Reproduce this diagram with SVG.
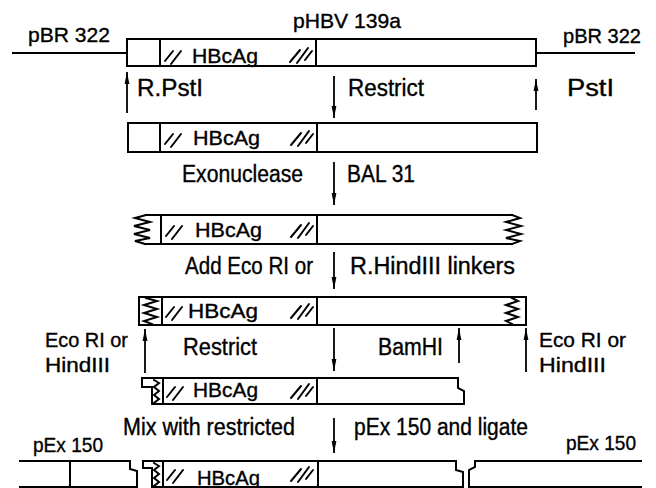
<svg xmlns="http://www.w3.org/2000/svg" xmlns:xlink="http://www.w3.org/1999/xlink" width="656" height="488" viewBox="0 0 656 488">
<style>
.s{fill:none;stroke:#000;stroke-width:2;stroke-linejoin:miter;stroke-linecap:square}
.h{fill:none;stroke:#000;stroke-width:2;stroke-linecap:round}
.a{fill:none;stroke:#000;stroke-width:1.8}
text{font-family:"Liberation Sans",Arial,sans-serif;fill:#000;stroke:#000;stroke-width:0.35}
.lb{font-size:23px}
.hb{font-size:20px}
.pl{font-size:21px}
</style>
<defs>
<marker id="ah" viewBox="0 0 12 6" refX="12" refY="3" markerWidth="12" markerHeight="6" markerUnits="userSpaceOnUse" orient="auto">
<path d="M0,0.6 L12,3 L0,5.4 Z" fill="#000"/>
</marker>
<path id="hL" class="h" d="M0,5 L8,-5 M6,8 L16,-5"/>
<path id="hR" class="h" d="M0,7 L10,-5 M7,8 L18,-7 M15,5 L22,-4"/>
</defs>
<rect width="656" height="488" fill="#fff"/>

<g id="row1">
<line class="s" x1="13" y1="53" x2="127" y2="53"/>
<rect class="s" x="127" y="39" width="409" height="27"/>
<line class="s" x1="160" y1="39" x2="160" y2="66"/>
<line class="s" x1="316" y1="39" x2="316" y2="66"/>
<line class="s" x1="536" y1="53" x2="634" y2="53"/>
<use xlink:href="#hL" x="165" y="56"/>
<use xlink:href="#hR" x="290" y="55"/>
<text class="pl" x="28" y="42" textLength="82" lengthAdjust="spacingAndGlyphs">pBR 322</text>
<text class="pl" x="293" y="28" textLength="108" lengthAdjust="spacingAndGlyphs">pHBV 139a</text>
<text class="pl" x="563" y="43" textLength="78" lengthAdjust="spacingAndGlyphs">pBR 322</text>
<text class="hb" x="192" y="63" textLength="66" lengthAdjust="spacingAndGlyphs">HBcAg</text>
</g>

<g id="row2">
<rect class="s" x="128" y="123" width="409" height="29"/>
<line class="s" x1="160" y1="123" x2="160" y2="152"/>
<line class="s" x1="317" y1="123" x2="317" y2="152"/>
<use xlink:href="#hL" x="165" y="139"/>
<use xlink:href="#hR" x="291" y="138"/>
<text class="hb" x="193" y="145" textLength="67" lengthAdjust="spacingAndGlyphs">HBcAg</text>
</g>

<g id="row3">
<line class="s" x1="146" y1="215" x2="512" y2="215"/>
<line class="s" x1="145" y1="244" x2="512" y2="244"/>
<polyline class="s" points="146,215 135,218 150,222 134,226 150,230 134,234 150,238 135,241 145,244"/>
<polyline class="s" points="512,215 520,218 506,222 521,226 506,230 521,234 506,238 520,241 512,244"/>
<line class="s" x1="161" y1="215" x2="161" y2="244"/>
<line class="s" x1="317" y1="215" x2="317" y2="244"/>
<use xlink:href="#hL" x="166" y="231"/>
<use xlink:href="#hR" x="291" y="230"/>
<text class="hb" x="195" y="237" textLength="67" lengthAdjust="spacingAndGlyphs">HBcAg</text>
</g>

<g id="row4">
<rect class="s" x="139" y="297" width="387" height="28"/>
<polyline class="s" points="146,298 157,301 144,305 157,309 144,313 157,317 144,321 152,324"/>
<polyline class="s" points="512,298 518,301 506,305 518,309 506,313 518,317 506,321 512,324"/>
<line class="s" x1="162" y1="297" x2="162" y2="325"/>
<line class="s" x1="317" y1="297" x2="317" y2="325"/>
<use xlink:href="#hL" x="166" y="312"/>
<use xlink:href="#hR" x="291" y="311"/>
<text class="hb" x="188" y="318" textLength="70" lengthAdjust="spacingAndGlyphs">HBcAg</text>
</g>

<g id="row5">
<path class="s" d="M142,378 H458 V388 L464,391 V404 H152 V387 H142 Z"/>
<polyline class="s" points="154,380 159,383 154,387 159,391 154,395 159,399 154,403"/>
<line class="s" x1="163" y1="378" x2="163" y2="404"/>
<line class="s" x1="317" y1="378" x2="317" y2="404"/>
<use xlink:href="#hL" x="167" y="392"/>
<use xlink:href="#hR" x="291" y="391"/>
<text class="hb" x="193" y="397" textLength="65" lengthAdjust="spacingAndGlyphs">HBcAg</text>
</g>

<g id="row6-pEx150-left">
<path class="s" d="M20,461 H130 V469 L137,471 V487 H20"/>
<line class="s" x1="70" y1="461" x2="70" y2="487"/>
<text class="pl" x="33" y="452" textLength="70" lengthAdjust="spacingAndGlyphs">pEx 150</text>
</g>

<g id="row6-insert">
<path class="s" d="M143,461 H456 V470 L463,472 V487 H152 V468 H143 Z"/>
<polyline class="s" points="154,463 159,466 154,470 159,474 154,478 159,482 154,486"/>
<line class="s" x1="163" y1="461" x2="163" y2="487"/>
<line class="s" x1="318" y1="461" x2="318" y2="487"/>
<use xlink:href="#hL" x="167" y="475"/>
<use xlink:href="#hR" x="291" y="474"/>
<text class="hb" x="197" y="485" textLength="63" lengthAdjust="spacingAndGlyphs">HBcAg</text>
</g>

<g id="row6-pEx150-right">
<path class="s" d="M641,461 H475 V467 L469,470 V487 H641"/>
<text class="pl" x="566" y="450" textLength="70" lengthAdjust="spacingAndGlyphs">pEx 150</text>
</g>

<g id="connectors">
<line class="a" x1="127" y1="113" x2="127" y2="72" marker-end="url(#ah)"/>
<line class="a" x1="334" y1="76" x2="334" y2="118" marker-end="url(#ah)"/>
<line class="a" x1="536" y1="110" x2="536" y2="79" marker-end="url(#ah)"/>
<line class="a" x1="334" y1="162" x2="334" y2="205" marker-end="url(#ah)"/>
<line class="a" x1="334" y1="252" x2="334" y2="289" marker-end="url(#ah)"/>
<line class="a" x1="145" y1="373" x2="145" y2="329" marker-end="url(#ah)"/>
<line class="a" x1="334" y1="328" x2="334" y2="371" marker-end="url(#ah)"/>
<line class="a" x1="459" y1="363" x2="459" y2="328" marker-end="url(#ah)"/>
<line class="a" x1="526" y1="372" x2="526" y2="328" marker-end="url(#ah)"/>
<line class="a" x1="334" y1="418" x2="334" y2="453" marker-end="url(#ah)"/>
</g>

<g id="labels">
<text class="lb" x="137" y="96" textLength="66" lengthAdjust="spacingAndGlyphs">R.PstI</text>
<text class="lb" x="348" y="96" textLength="76" lengthAdjust="spacingAndGlyphs">Restrict</text>
<text class="lb" x="567" y="96" textLength="47" lengthAdjust="spacingAndGlyphs">PstI</text>
<text class="lb" x="182" y="182" textLength="121" lengthAdjust="spacingAndGlyphs">Exonuclease</text>
<text class="lb" x="347" y="182" textLength="68" lengthAdjust="spacingAndGlyphs">BAL 31</text>
<text class="lb" x="185" y="274" textLength="128" lengthAdjust="spacingAndGlyphs">Add Eco RI or</text>
<text class="lb" x="350" y="274" textLength="165" lengthAdjust="spacingAndGlyphs">R.HindIII linkers</text>
<text class="pl" x="45" y="347" textLength="83" lengthAdjust="spacingAndGlyphs">Eco RI or</text>
<text class="pl" x="45" y="372" textLength="65" lengthAdjust="spacingAndGlyphs">HindIII</text>
<text class="lb" x="183" y="355" textLength="74" lengthAdjust="spacingAndGlyphs">Restrict</text>
<text class="lb" x="378" y="355" textLength="65" lengthAdjust="spacingAndGlyphs">BamHI</text>
<text class="pl" x="539" y="347" textLength="87" lengthAdjust="spacingAndGlyphs">Eco RI or</text>
<text class="pl" x="539" y="372" textLength="67" lengthAdjust="spacingAndGlyphs">HindIII</text>
<text class="lb" x="123" y="435" textLength="172" lengthAdjust="spacingAndGlyphs">Mix with restricted</text>
<text class="lb" x="354" y="435" textLength="174" lengthAdjust="spacingAndGlyphs">pEx 150 and ligate</text>
</g>
</svg>
